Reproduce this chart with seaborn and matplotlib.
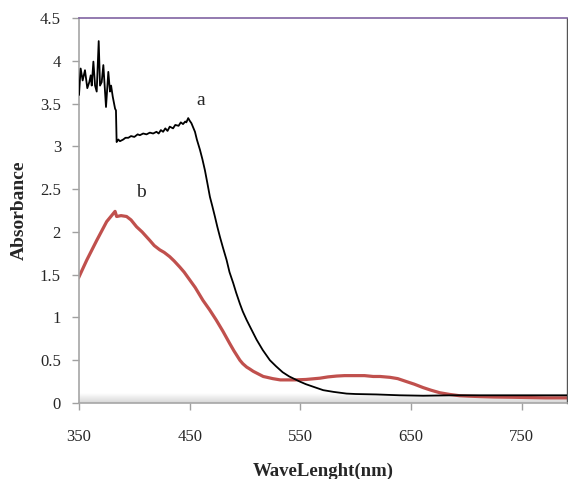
import numpy as np
import pandas as pd
import matplotlib
matplotlib.use("Agg")
import matplotlib.pyplot as plt
import seaborn as sns

# ---- data ----
wl_a = [350, 351.5, 353.3, 355.4, 357.5, 359.3, 360.6, 361.5, 363, 364.5, 366, 367.8,
        369, 370.5, 372, 374.4, 376.5, 378, 379, 380.5, 382.6, 383.4, 384, 385.5, 387, 390,
        392, 394.6, 397, 400, 403, 405, 408, 411, 414, 417, 420, 422, 424, 426, 428, 430,
        432, 435, 437, 440, 442, 444, 446, 447, 448.7, 450, 451.6,
        454.8, 456.5, 459.3, 461.5, 463.8, 466, 468.3, 470.5, 472.8, 475, 477.4, 480,
        483.4, 486, 489.4, 492, 495.4, 498, 501.5, 505, 510.5, 516,
        522.5, 528, 534, 540, 549.6, 555, 561.7, 570.7, 580, 591.8, 600, 618.9, 640, 661,
        688, 720, 760, 791]
abs_a = [3.60, 3.91, 3.77, 3.89, 3.68, 3.75, 3.83, 3.71, 3.99, 3.71, 3.64, 4.23,
         3.71, 3.75, 3.95, 3.46, 3.87, 3.64, 3.71, 3.58, 3.44, 3.42, 3.05, 3.08, 3.06, 3.08,
         3.10, 3.10, 3.12, 3.11, 3.14, 3.13, 3.15, 3.14, 3.16, 3.15, 3.17, 3.15, 3.19, 3.17,
         3.21, 3.18, 3.23, 3.21, 3.25, 3.24, 3.28, 3.26, 3.29, 3.28, 3.33, 3.30, 3.27,
         3.17, 3.08, 2.96, 2.85, 2.72, 2.57, 2.41, 2.30, 2.18, 2.06, 1.94, 1.82,
         1.67, 1.53, 1.40, 1.29, 1.16, 1.07, 0.97, 0.88, 0.74, 0.62,
         0.50, 0.43, 0.36, 0.31, 0.25, 0.22, 0.19, 0.15, 0.13, 0.11, 0.105, 0.10, 0.09, 0.085,
         0.09, 0.09, 0.09, 0.09]

wl_b = [349.5, 357, 366, 375, 382.6, 384, 388, 393, 397, 402, 407, 414, 418, 423,
        427, 432, 436, 441, 445, 450, 455, 462, 468, 474, 480, 486, 490, 495.4, 498,
        501.5, 504, 507.5, 512, 516.5, 520, 525, 531.9, 538, 545, 555, 567.7, 575,
        582.8, 590, 600, 608, 615.9, 622, 631, 638, 646, 653, 661, 668, 676, 685, 694,
        702, 712, 725, 742, 772, 791]
abs_b = [1.46, 1.67, 1.90, 2.12, 2.24, 2.18, 2.19, 2.18, 2.14, 2.06, 2.00, 1.90, 1.84,
         1.79, 1.76, 1.71, 1.66, 1.59, 1.53, 1.44, 1.35, 1.20, 1.09, 0.97, 0.84, 0.70,
         0.61, 0.50, 0.46, 0.42, 0.40, 0.37, 0.34, 0.31, 0.30, 0.285, 0.27, 0.27, 0.27,
         0.275, 0.29, 0.305, 0.315, 0.32, 0.32, 0.32, 0.31, 0.31, 0.30, 0.285, 0.25,
         0.22, 0.18, 0.15, 0.12, 0.10, 0.085, 0.08, 0.075, 0.07, 0.067, 0.06, 0.06]

x_ticks = [350, 450, 550, 650, 750]
y_ticks = [0, 0.5, 1, 1.5, 2, 2.5, 3, 3.5, 4, 4.5]
y_tick_labels = ["0", "0.5", "1", "1.5", "2", "2.5", "3", "3.5", "4", "4.5"]

df_a = pd.DataFrame({"wl": wl_a, "A": abs_a})
df_b = pd.DataFrame({"wl": wl_b, "A": abs_b})

sns.set_style("white")
plt.rcParams["font.family"] = ["Liberation Serif", "DejaVu Serif"]

fig = plt.figure(figsize=(5.68, 4.79), dpi=100)
ax = fig.add_axes([79 / 568, 1 - 403 / 479, (567 - 79) / 568, (403 - 18) / 479])

# 3D-like floor gradient (white at top -> light grey at bottom)
shade = np.linspace(1.0, 0.84, 40).reshape(-1, 1)
img = np.dstack([shade, shade, shade])
ax.imshow(img, extent=[350, 791, 0, 0.11], aspect="auto", origin="upper",
          zorder=0, interpolation="bilinear")

sns.lineplot(data=df_a, x="wl", y="A", ax=ax, color="black", linewidth=1.3,
             sort=False, estimator=None, zorder=3)
sns.lineplot(data=df_b, x="wl", y="A", ax=ax, color="#c0504d", linewidth=2.3,
             sort=False, estimator=None, zorder=2)

ax.set_xlim(350, 791)
ax.set_ylim(0, 4.5)
ax.set_xticks(x_ticks)
ax.set_xticklabels([str(t) for t in x_ticks])
ax.set_yticks(y_ticks)
ax.set_yticklabels(y_tick_labels)

ax.tick_params(axis="x", direction="out", length=5, width=1, color="#a0a0a0",
               pad=14, labelsize=12, bottom=True)
ax.tick_params(axis="y", direction="out", length=5, width=1, color="#a0a0a0",
               pad=8, labelsize=12, left=True)

for s in ["left", "bottom"]:
    ax.spines[s].set_color("#a6a6a6")
    ax.spines[s].set_linewidth(1.2)
ax.spines["top"].set_color("#8064a2")
ax.spines["top"].set_linewidth(1.2)
ax.spines["right"].set_color("#555555")
ax.spines["right"].set_linewidth(1.0)

ax.set_xlabel("WaveLenght(nm)", fontsize=13.5, fontweight="bold")
ax.set_ylabel("Absorbance", fontsize=14, fontweight="bold")
ax.xaxis.set_label_coords(0.5, -0.155)
ax.yaxis.set_label_coords(-0.105, 0.5)

ax.text(460, 3.53, "a", fontsize=14, ha="center", va="center")
ax.text(406, 2.46, "b", fontsize=14, ha="center", va="center")

fig.savefig("out.png", dpi=100)
